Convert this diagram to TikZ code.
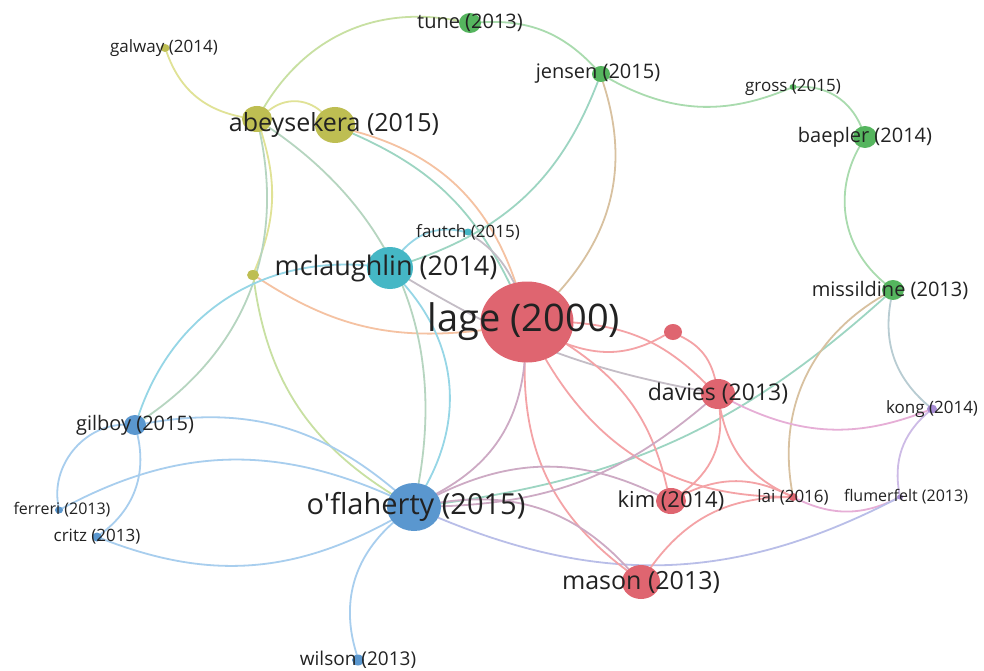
\documentclass[tikz,border=0pt]{standalone}
\usepackage{fontspec}
\newfontfamily\vosfont{Open Sans}
\usepackage{tikz}
\usetikzlibrary{backgrounds,shapes.geometric}
\definecolor{vosred}{HTML}{DF6570}
\definecolor{vosgreen}{HTML}{55B55E}
\definecolor{vosblue}{HTML}{5A97CF}
\definecolor{voscyan}{HTML}{45B7C5}
\definecolor{vosyellow}{HTML}{BEBE52}
\definecolor{vospurple}{HTML}{A68BD3}
\definecolor{vostext}{HTML}{222222}
\definecolor{ered}{HTML}{F4A3A6}
\definecolor{egreen}{HTML}{A9DBAE}
\definecolor{eblue}{HTML}{A8CEEE}
\definecolor{ecyan}{HTML}{96D6E6}
\definecolor{eyellow}{HTML}{E0E296}
\definecolor{epurple}{HTML}{CDBBE6}
\definecolor{eorange}{HTML}{F5C2A2}
\definecolor{eteal}{HTML}{9DD5C2}
\definecolor{egray}{HTML}{C4BDC6}
\definecolor{emauve}{HTML}{CDAAC4}
\definecolor{eblupur}{HTML}{B9BEE8}
\definecolor{epink}{HTML}{E6AED6}
\definecolor{egold}{HTML}{D8C1A0}
\definecolor{eyg}{HTML}{C8E0A2}
\definecolor{eyb}{HTML}{B6D5C0}
\definecolor{egp}{HTML}{B8CCD2}
\tikzset{%
  vosnode/.style={%
    ellipse,
    draw=none,
    inner sep=0pt,
    fill=#1
  },
  voslabel/.style={%
    font=\vosfont\fontsize{#1}{#1}\selectfont,
    text=vostext,
    inner sep=0pt
  },
  vosedge/.style={line width=1.8pt,draw=#1,line cap=round}
}
\begin{document}
\begin{tikzpicture}[x=1pt,y=-1pt]
    \useasboundingbox (0,0) rectangle (984,671);
    % small and unlabelled nodes first
    \node[vosnode=vosyellow,minimum width=30pt,minimum height=26pt] (abeysmall) at (257,119) {};
    \node[vosnode=vosyellow,minimum width=12pt,minimum height=10pt] (yellowdot) at (253,275) {};
    \node[vosnode=vosred,minimum width=18pt,minimum height=16pt] (reddot) at (673,332) {};
    \node[vosnode=vosyellow,minimum width=9pt,minimum height=8pt,label={[voslabel=17,xshift=-1pt]center:galway (2014)}] (galway) at (165,48) {};
    \node[vosnode=voscyan,minimum width=8pt,minimum height=7pt,label={[voslabel=17]center:fautch (2015)}] (fautch) at (468,232) {};
    \node[vosnode=vosgreen,minimum width=7pt,minimum height=6pt,label={[voslabel=17]center:gross (2015)}] (gross) at (793,87) {};
    \node[vosnode=vospurple,minimum width=10pt,minimum height=9pt,label={[voslabel=17]center:kong (2014)}] (kong) at (932,409) {};
    \node[vosnode=vosred,minimum width=9pt,minimum height=8pt,label={[voslabel=17]center:lai (2016)}] (lai) at (793,497) {};
    \node[vosnode=vospurple,minimum width=6pt,minimum height=5pt,label={[voslabel=16,xshift=6pt]center:flumerfelt (2013)}] (flumerfelt) at (900,497) {};
    \node[vosnode=vosblue,minimum width=8pt,minimum height=7pt,label={[voslabel=16,xshift=3pt]center:ferreri (2013)}] (ferreri) at (59,510) {};
    \node[vosnode=vosblue,minimum width=10pt,minimum height=9pt,label={[voslabel=17]center:critz (2013)}] (critz) at (97,537) {};
    \node[vosnode=vosblue,minimum width=12pt,minimum height=11pt,label={[voslabel=19]center:wilson (2013)}] (wilson) at (358,660) {};
    % medium nodes
    \node[vosnode=vosgreen,minimum width=22pt,minimum height=20pt,label={[voslabel=20]center:tune (2013)}] (tune) at (470,23) {};
    \node[vosnode=vosgreen,minimum width=18pt,minimum height=16pt,label={[voslabel=20,xshift=-3pt]center:jensen (2015)}] (jensen) at (601,74) {};
    \node[vosnode=vosgreen,minimum width=24pt,minimum height=22pt,label={[voslabel=20]center:baepler (2014)}] (baepler) at (865,137) {};
    \node[vosnode=vosgreen,minimum width=22pt,minimum height=20pt,label={[voslabel=20,xshift=-3pt]center:missildine (2013)}] (missildine) at (893,290) {};
    \node[vosnode=vosblue,minimum width=22pt,minimum height=20pt,label={[voslabel=20]center:gilboy (2015)}] (gilboy) at (135,425) {};
    \node[vosnode=vosred,minimum width=30pt,minimum height=26pt,label={[voslabel=22]center:kim (2014)}] (kim) at (671,501) {};
    \node[vosnode=vosred,minimum width=34pt,minimum height=30pt,label={[voslabel=23]center:davies (2013)}] (davies) at (718,394) {};
    \node[vosnode=vosred,minimum width=38pt,minimum height=34pt,label={[voslabel=25]center:mason (2013)}] (mason) at (641,582) {};
    \node[vosnode=vosyellow,minimum width=40pt,minimum height=36pt,label={[voslabel=25,xshift=-1pt]center:abeysekera (2015)}] (abeybig) at (335,125) {};
    % large nodes
    \node[vosnode=voscyan,minimum width=46pt,minimum height=42pt,label={[voslabel=27,xshift=-4pt]center:mclaughlin (2014)}] (mclaughlin) at (390,268) {};
    \node[vosnode=vosblue,minimum width=54pt,minimum height=48pt,label={[voslabel=29,xshift=2pt]center:o'flaherty (2015)}] (oflaherty) at (414,507) {};
    \node[vosnode=vosred,minimum width=93pt,minimum height=81pt,label={[voslabel=38,xshift=-3pt]center:lage (2000)}] (lage) at (527,322) {};

    \begin{scope}[on background layer]
      \fill[white] (0,0) rectangle (984,671);
      % yellow cluster
      \draw[vosedge=eyellow] (galway) to[bend right=30] (abeysmall);
      \draw[vosedge=eyg] (abeysmall) to[bend left=35] (tune);
      \draw[vosedge=eyellow] (abeysmall) to[bend left=40] (abeybig);
      \draw[vosedge=eyellow] (abeysmall) to[bend left=20] (yellowdot);
      \draw[vosedge=eyb] (abeysmall) to[bend left=34] (gilboy);
      \draw[vosedge=eyg] (yellowdot) to[bend right=25] (oflaherty);
      \draw[vosedge=eorange] (yellowdot) to[bend right=20] (lage);
      \draw[vosedge=eyb] (abeysmall) to[bend left=33] (oflaherty);
      \draw[vosedge=eorange] (abeybig) to[bend left=28] (lage);
      \draw[vosedge=eteal] (abeybig) to[bend left=20] (lage);
      % green cluster
      \draw[vosedge=eteal] (jensen) to[bend left=25] (mclaughlin);
      \draw[vosedge=egreen] (tune) to[bend left=25] (jensen);
      \draw[vosedge=egreen] (jensen) to[bend right=26] (gross);
      \draw[vosedge=egreen] (gross) to[bend left=35] (baepler);
      \draw[vosedge=egreen] (baepler) to[bend right=40] (missildine);
      \draw[vosedge=egold] (jensen) to[bend left=30] (lage);
      \draw[vosedge=eteal] (missildine) to[bend left=17] (oflaherty);
      \draw[vosedge=egold] (missildine) to[bend right=35] (lai);
      \draw[vosedge=egp] (missildine) to[bend right=30] (kong);
      % cyan cluster
      \draw[vosedge=ecyan] (fautch) to[bend right=30] (mclaughlin);
      \draw[vosedge=egray] (fautch) to[bend left=15] (lage);
      \draw[vosedge=egray] (mclaughlin) to[bend right=10] (davies);
      \draw[vosedge=ecyan] (mclaughlin) to[bend right=38] (gilboy);
      \draw[vosedge=ecyan] (mclaughlin) to[bend left=35] (oflaherty);
      % purple cluster
      \draw[vosedge=epurple] (kong) to[bend right=30] (flumerfelt);
      \draw[vosedge=epink] (davies) to[bend right=24] (kong);
      \draw[vosedge=epink] (lai) to[bend right=26] (flumerfelt);
      \draw[vosedge=eblupur] (oflaherty) to[bend right=25] (flumerfelt);
      % red cluster
      \draw[vosedge=ered] (lage) to[bend right=25] (reddot);
      \draw[vosedge=ered] (reddot) to[bend left=25] (davies);
      \draw[vosedge=ered] (lage) to[bend left=20] (davies);
      \draw[vosedge=ered] (lage) to[bend left=22] (kim);
      \draw[vosedge=ered] (lage) to[bend right=30] (lai);
      \draw[vosedge=ered] (lage) to[bend right=27] (mason);
      \draw[vosedge=emauve] (lage) to[bend left=28] (oflaherty);
      \draw[vosedge=ered] (davies) to[bend left=30] (kim);
      \draw[vosedge=emauve] (davies) to[bend left=19] (oflaherty);
      \draw[vosedge=ered] (davies) to[bend right=27] (lai);
      \draw[vosedge=emauve] (oflaherty) to[bend left=26] (kim);
      \draw[vosedge=emauve] (oflaherty) to[bend left=28] (mason);
      \draw[vosedge=ered] (kim) to[bend left=26] (lai);
      \draw[vosedge=ered] (mason) to[bend left=27] (lai);
      % blue cluster
      \draw[vosedge=eblue] (gilboy) to[bend left=25] (oflaherty);
      \draw[vosedge=eblue] (ferreri) to[bend left=26] (oflaherty);
      \draw[vosedge=eblue] (critz) to[bend right=25] (oflaherty);
      \draw[vosedge=eblue] (gilboy) to[bend right=50] (ferreri);
      \draw[vosedge=eblue] (gilboy) to[bend left=33] (critz);
      \draw[vosedge=eblue] (oflaherty) to[bend right=33] (wilson);
    \end{scope}
  \end{tikzpicture}
\end{document}
